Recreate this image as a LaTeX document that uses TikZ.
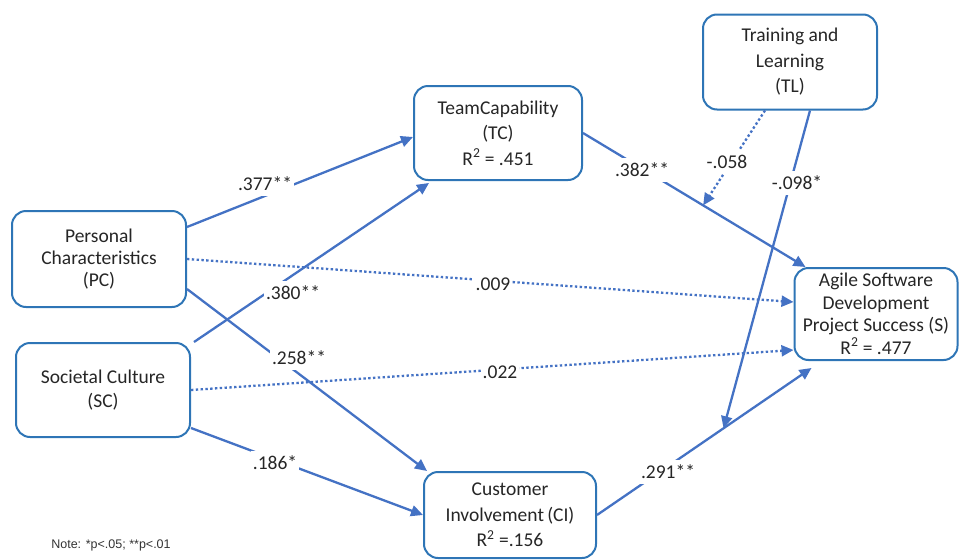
\documentclass[tikz,border=0pt]{standalone}
\usepackage{fontspec}
\setmainfont{Carlito}
\newfontfamily\notefont{Liberation Sans}
\usetikzlibrary{arrows.meta}
\definecolor{boxblue}{HTML}{2E75B6}
\definecolor{arrblue}{HTML}{4472C4}
\begin{document}
\begin{tikzpicture}[x=1pt,y=-1pt,
  box/.style={draw=boxblue, line width=2pt, rounded corners=14pt, fill=white, align=center,
    text=black!85, font=\fontsize{19.5}{23}\selectfont, inner sep=0pt},
  widebox/.style={box, font=\fontsize{19.5}{25.5}\selectfont},
  arr/.style={draw=arrblue, line width=2.3pt, -{Triangle[length=12pt,width=11pt]}},
  dotarr/.style={arr, dash pattern=on 2.4pt off 2.4pt},
  lab/.style={fill=white, text=black!85, font=\fontsize{19.5}{22}\selectfont, inner xsep=2pt, inner ysep=5pt}
]
\useasboundingbox (0,0) rectangle (962,560);

% boxes
\node[box, minimum width=174pt, minimum height=96pt, font=\fontsize{19.5}{22}\selectfont] (PC) at (99,259) {Personal\\Characteristics\\(PC)};
\node[box, minimum width=174pt, minimum height=94pt, font=\fontsize{19.5}{24}\selectfont] (SC) at (103,390) {Societal Culture\\(SC)};
\node[widebox, minimum width=168pt, minimum height=94pt] (TC) at (498,133) {TeamCapability\\(TC)\\R\textsuperscript{2} = .451};
\node[widebox, minimum width=174pt, minimum height=95pt] (TL) at (790,62) {Training and\\Learning\\(TL)};
\node[box, minimum width=163pt, minimum height=92pt, font=\fontsize{19.5}{22.5}\selectfont] (S) at (876,314) {Agile Software\\Development\\Project Success (S)\\R\textsuperscript{2} = .477};
\node[widebox, minimum width=172pt, minimum height=86pt] (CI) at (510,515) {Customer\\Involvement\,(CI)\\R\textsuperscript{2} =.156};

% connectors
\draw[arr] ([yshift=32pt]PC.east) -- ([yshift=-4pt]TC.west);
\draw[arr] ([xshift=3pt]SC.north east) -- ([xshift=16pt,yshift=-2pt]TC.south west);
\draw[dotarr] (PC.east) -- ([yshift=12pt]S.west);
\draw[arr] ([yshift=-30pt]PC.east) -- ([xshift=4pt]CI.north west);
\draw[dotarr] (SC.east) -- ([yshift=-36pt]S.west);
\draw[arr] ([yshift=-38pt]SC.east) -- (CI.west);
\draw[arr] (TC.east) -- ([xshift=12pt]S.north west) coordinate[pos=0.54] (m1);
\draw[arr] (CI.east) -- ([xshift=18pt,yshift=-7pt]S.south west) coordinate[pos=0.59] (m2);
\draw[dotarr] ([xshift=-25pt]TL.south) -- (m1);
\draw[arr] ([xshift=20pt]TL.south) -- (m2);

% coefficients
\node[lab] (l1) at (265,184) {.377**};
\node[lab] (l2) at (293,293) {.380**};
\node[lab] (l3) at (493,284) {.009};
\node[lab] (l4) at (299,358) {.258**};
\node[lab] (l5) at (500,372) {.022};
\node[lab] (l6) at (275,463) {.186*};
\node[lab] (l7) at (642,170) {.382**};
\node[lab] (l8) at (727,162) {-.058};
\node[lab] (l9) at (797,183) {-.098*};
\node[lab] (l10) at (668,472) {.291**};

\node[font=\notefont\fontsize{12.5}{14}\selectfont, text=black!80] (note) at (111,545) {Note: *p<.05; **p<.01};
\end{tikzpicture}
\end{document}
